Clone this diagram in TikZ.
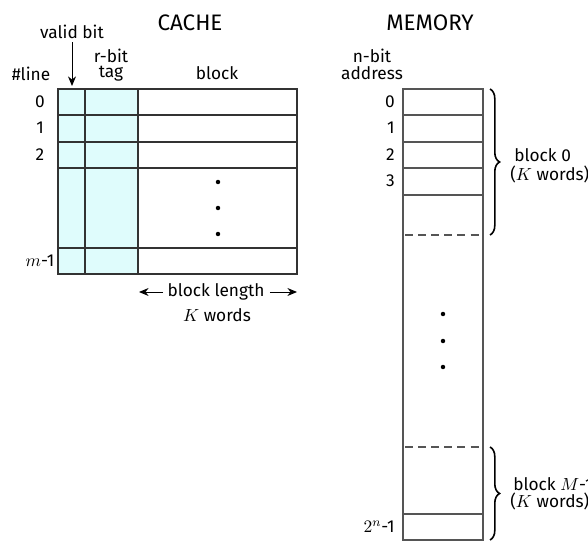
\documentclass[tikz,border=0pt]{standalone}
\usepackage{fontspec}
\setmainfont{Fira Sans}
\usetikzlibrary{decorations.pathreplacing,arrows.meta}
\definecolor{tagfill}{HTML}{DFFCFC}
\definecolor{linec}{HTML}{333333}
\definecolor{memline}{HTML}{555555}
\tikzset{
  lbl/.style={inner sep=0pt,font=\fontsize{10.8}{12}\selectfont},
  title/.style={inner sep=0pt,font=\fontsize{14}{16}\selectfont},
  cline/.style={draw=linec,line width=0.7pt},
  mline/.style={draw=memline,line width=0.7pt},
  dline/.style={draw=memline,line width=0.7pt,dash pattern=on 5pt off 3.2pt},
  brc/.style={decorate,decoration={brace,amplitude=6pt},line width=1pt},
  dot/.style={circle,fill=black,inner sep=0pt,minimum size=2.8pt},
  arr/.style={-{Stealth[length=6pt,width=5pt]},line width=0.6pt}
}
\begin{document}
\begin{tikzpicture}[x=0.625pt,y=-0.625pt]
\useasboundingbox (0,0) rectangle (588,541);
% ---------- CACHE ----------
\node[title] (cache) at (190,23) {CACHE};
\node[lbl] (vb) at (72,32) {valid bit};
\node[lbl] (line) at (31,74) {\#line};
\node[lbl] (rbit) at (111,55.5) {r-bit};
\node[lbl] (tag) at (111,74) {tag};
\node[lbl] (blk) at (217,73) {block};
\coordinate (vbtip) at (72,86);
\draw[arr] (vb.south)++(0,3) -- (vbtip);
\fill[tagfill] (58,89) rectangle (138,274);
\draw[cline] (58,89) rectangle (297,274);
\foreach \y in {115,142,168,248} \draw[cline] (58,\y) -- (297,\y);
\draw[cline] (85,89) -- (85,274);
\draw[cline] (138,89) -- (138,274);
\node[lbl] (l0) at (40,102) {0};
\node[lbl] (l1) at (40,128) {1};
\node[lbl] (l2) at (40,155) {2};
\node[lbl] (lm) at (40,261) {$m$-1};
\node[dot] (cd1) at (218,182) {};
\node[dot] (cd2) at (218,208) {};
\node[dot] (cd3) at (218,234) {};
\node[lbl] (bl) at (216,292) {block length};
\coordinate (blL) at (139,292);
\coordinate (blR) at (297,292);
\draw[arr] (bl.west)++(-4,0) -- (blL);
\draw[arr] (bl.east)++(5,0) -- (blR);
\node[lbl] (kw) at (217,315) {$K$ words};
% ---------- MEMORY ----------
\node[title] (mem) at (430,23) {MEMORY};
\node[lbl] (nbit) at (372,55.5) {n-bit};
\node[lbl] (addr) at (372,73) {address};
\draw[mline] (403,89) rectangle (483,540);
\foreach \y in {115,142,168,195,514} \draw[mline] (403,\y) -- (483,\y);
\draw[dline] (405,235) -- (481,235);
\draw[dline] (405,447) -- (481,447);
\node[lbl,anchor=east] (m0) at (395,102) {0};
\node[lbl,anchor=east] (m1) at (395,128) {1};
\node[lbl,anchor=east] (m2) at (395,155) {2};
\node[lbl,anchor=east] (m3) at (395,181) {3};
\node[lbl,anchor=east] (mn) at (395,527) {$2^n$-1};
\node[dot] (md1) at (443,314) {};
\node[dot] (md2) at (443,341) {};
\node[dot] (md3) at (443,367) {};
\coordinate (b0t) at (490,89);
\coordinate (b0b) at (490,235);
\coordinate (b1t) at (490,447);
\coordinate (b1b) at (490,540);
\draw[brc] (b0t) -- (b0b);
\draw[brc] (b1t) -- (b1b);
\node[lbl,anchor=west] (blk0) at (514,155) {block 0};
\node[lbl,anchor=west] (blk0w) at (510,174) {($K$ words)};
\node[lbl,anchor=west] (blkM) at (513,484) {block $M$-1};
\node[lbl,anchor=west] (blkMw) at (510,501) {($K$ words)};
\end{tikzpicture}
\end{document}
